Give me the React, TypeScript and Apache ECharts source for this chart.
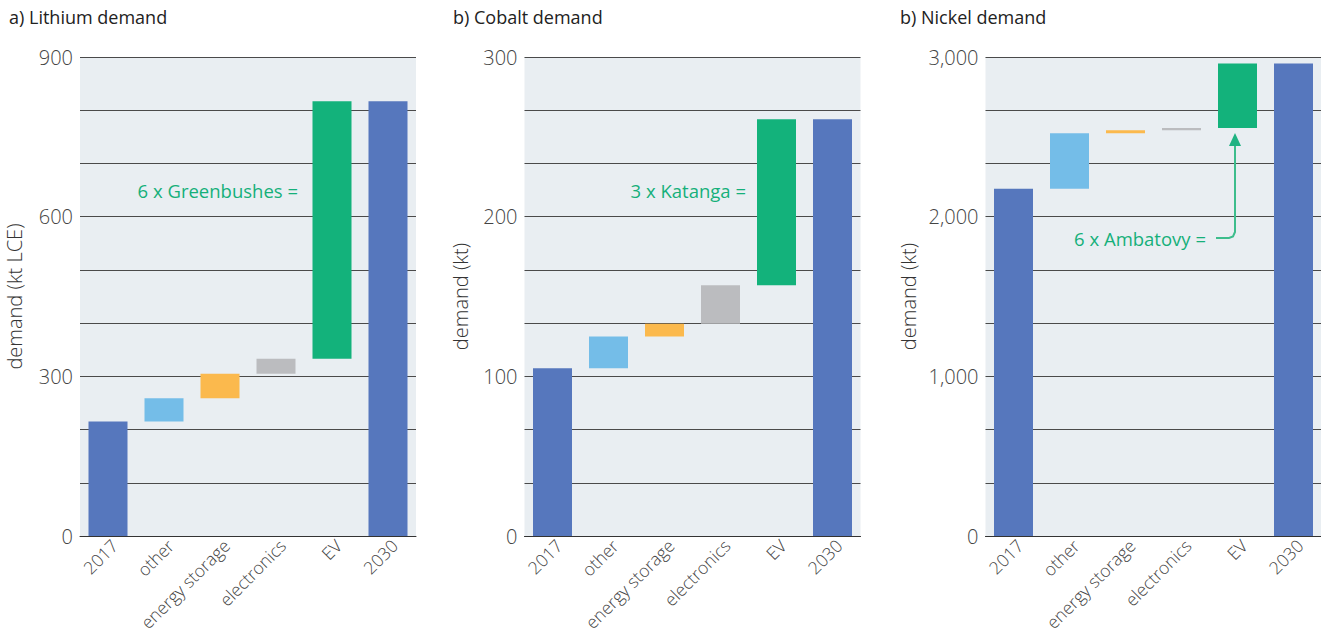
import React, { useEffect, useRef } from "react";
import * as echarts from "echarts";

const categories = ["2017", "other", "energy storage", "electronics", "EV", "2030"];

const lithium2017 = 215;
const lithiumGrowth = [44, 46, 28, 484];

const cobalt2017 = 105;
const cobaltGrowth = [20, 8, 24, 104];

const nickel2017 = 2175;
const nickelGrowth = [347, 20, 13, 405];

const titles = ["a) Lithium demand", "b) Cobalt demand", "b) Nickel demand"];
const axisNames = ["demand (kt LCE)", "demand (kt)", "demand (kt)"];
const axisMax = [900, 300, 3000];
const axisInterval = [300, 100, 1000];

const barColors = ["#5677bd", "#74bde8", "#fbb94d", "#bbbcbf", "#13b27b", "#5677bd"];

const FONT = "'Open Sans', 'Noto Sans', sans-serif";

function waterfall(start: number, growth: number[]) {
  const base: number[] = [0];
  const vals: number[] = [start];
  let level = start;
  for (const g of growth) {
    base.push(level);
    vals.push(g);
    level += g;
  }
  base.push(0);
  vals.push(level);
  return { base, vals };
}

export default function App() {
  const ref = useRef<HTMLDivElement>(null);
  useEffect(() => {
    if (!ref.current) return;
    const chart = echarts.init(ref.current, undefined, { renderer: "svg" });
    const lefts = [80, 524.5, 985.5];
    const nameGaps = [56, 54, 67];
    const data = [
      waterfall(lithium2017, lithiumGrowth),
      waterfall(cobalt2017, cobaltGrowth),
      waterfall(nickel2017, nickelGrowth),
    ];
    const grids = lefts.map((l) => ({
      left: l,
      width: 336,
      top: 57,
      height: 479,
      show: true,
      backgroundColor: "#e9eef2",
      borderWidth: 0,
      containLabel: false,
      outerBoundsMode: "none",
    }));
    const xAxes = lefts.map((_, i) => ({
      type: "category",
      gridIndex: i,
      data: categories,
      axisLine: { lineStyle: { color: "#333", width: 1 } },
      axisTick: {
        length: 7,
        lineStyle: { color: "#333" },
        interval: (idx: number) => idx > 0,
      },
      axisLabel: {
        interval: 0,
        rotate: 45,
        margin: 0,
        verticalAlign: "top",
        fontSize: 17.5,
        color: "#444",
        fontFamily: FONT,
        fontWeight: 300,
      },
    }));
    const yAxes = lefts.map((_, i) => ({
      type: "value",
      gridIndex: i,
      min: 0,
      max: axisMax[i],
      interval: axisInterval[i],
      name: axisNames[i],
      nameLocation: "middle",
      nameGap: nameGaps[i],
      nameTextStyle: { fontSize: 20, color: "#333", fontFamily: FONT, fontWeight: 300 },
      axisLine: { show: false },
      axisTick: { show: false },
      axisLabel: {
        fontSize: 20,
        color: "#444",
        margin: 7,
        fontFamily: FONT,
        fontWeight: 300,
        formatter: (v: number) => v.toLocaleString("en-US"),
      },
      splitLine: { show: true, lineStyle: { color: "#4a4a4a", width: 1 } },
      minorTick: { show: false, splitNumber: 3 },
      minorSplitLine: { show: true, lineStyle: { color: "#4a4a4a", width: 1 } },
    }));
    const series: any[] = [];
    data.forEach((d, i) => {
      series.push({
        type: "bar",
        xAxisIndex: i,
        yAxisIndex: i,
        stack: "w" + i,
        data: d.base,
        barWidth: 39,
        itemStyle: { color: "transparent" },
        silent: true,
      });
      series.push({
        type: "bar",
        xAxisIndex: i,
        yAxisIndex: i,
        stack: "w" + i,
        barWidth: 39,
        data: d.vals.map((v, j) => ({ value: v, itemStyle: { color: barColors[j] } })),
      });
    });
    const green = "#15b07a";
    const annotationStyle = {
      fill: green,
      fontSize: 18.5,
      fontFamily: FONT,
      align: "right",
      verticalAlign: "middle",
    };
    chart.setOption({
      animation: false,
      backgroundColor: "#ffffff",
      title: titles.map((t, i) => ({
        text: t,
        left: [4, 448, 895][i],
        top: 3,
        textStyle: { fontSize: 18, fontWeight: 400, color: "#222", fontFamily: FONT },
      })),
      grid: grids,
      xAxis: xAxes,
      yAxis: yAxes,
      series,
      graphic: [
        { type: "text", x: 298, y: 190, style: { ...annotationStyle, text: "6 x Greenbushes =" }, z: 10 },
        { type: "text", x: 746, y: 190, style: { ...annotationStyle, text: "3 x Katanga =" }, z: 10 },
        { type: "text", x: 1206, y: 238, style: { ...annotationStyle, text: "6 x Ambatovy =" }, z: 10 },
        {
          type: "polyline",
          shape: {
            points: [
              [1216, 238],
              [1229, 238],
              [1233, 236.5],
              [1235, 232],
              [1235, 145],
            ],
          },
          style: { stroke: "#3dbd8c", lineWidth: 2, fill: "none" },
          z: 10,
        },
        {
          type: "polygon",
          shape: {
            points: [
              [1229, 146],
              [1241, 146],
              [1235, 133],
            ],
          },
          style: { fill: "#1fb382" },
          z: 10,
        },
      ],
    });
    return () => chart.dispose();
  }, []);
  return (
    <div
      ref={ref}
      style={{ position: "fixed", left: 0, top: 0, width: 1321, height: 637 }}
    />
  );
}
